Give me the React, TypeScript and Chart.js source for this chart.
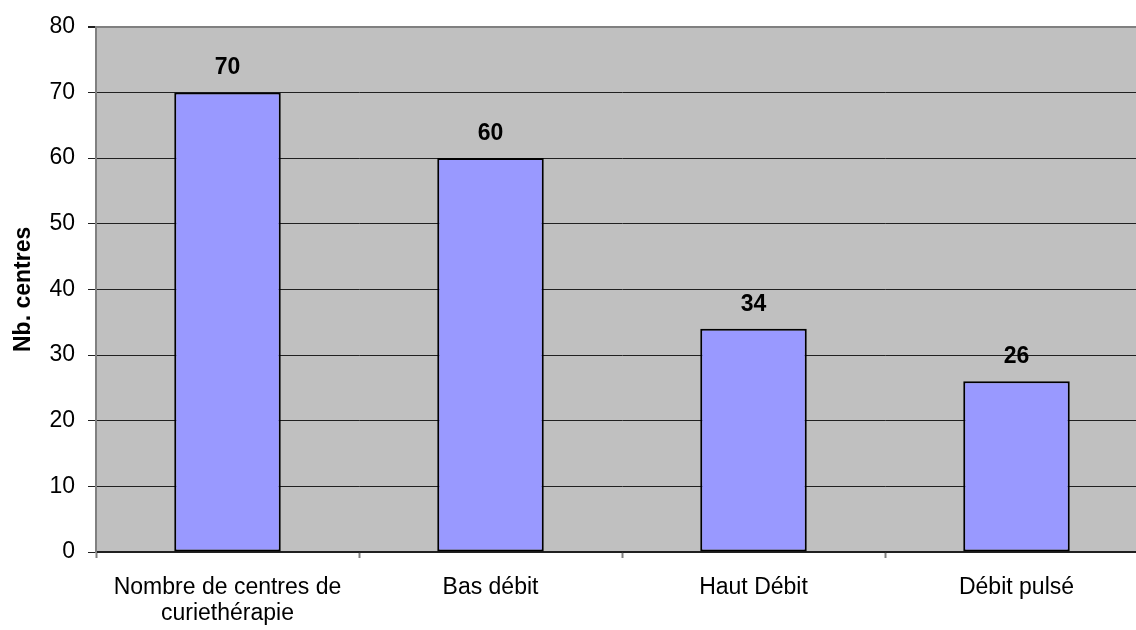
import React, { useEffect, useRef } from 'react';
import { Chart, registerables } from 'chart.js';

Chart.register(...registerables);

const categories: (string | string[])[] = [
  ['Nombre de centres de', 'curiethérapie'],
  'Bas débit',
  'Haut Débit',
  'Débit pulsé',
];
const centres: number[] = [70, 60, 34, 26];
const yMin = 0;
const yMax = 80;
const yStep = 10;
const yTitle = 'Nb. centres';

const FONT = '"Liberation Sans", Arial, sans-serif';

const plotBackground = {
  id: 'plotBackground',
  beforeDraw(chart: any) {
    const { ctx, chartArea } = chart;
    ctx.save();
    ctx.fillStyle = '#C0C0C0';
    ctx.fillRect(chartArea.left, chartArea.top, chartArea.right - chartArea.left, chartArea.bottom - chartArea.top);
    ctx.restore();
  },
};

const valueLabels = {
  id: 'valueLabels',
  afterDatasetsDraw(chart: any) {
    const { ctx } = chart;
    const meta = chart.getDatasetMeta(0);
    const data = chart.data.datasets[0].data;
    ctx.save();
    ctx.font = `bold 23px ${FONT}`;
    ctx.fillStyle = '#000';
    ctx.textAlign = 'center';
    ctx.textBaseline = 'alphabetic';
    meta.data.forEach((bar: any, i: number) => {
      ctx.fillText(String(data[i]), bar.x, bar.y - 18);
    });
    ctx.restore();
  },
};

export default function App() {
  const ref = useRef<HTMLCanvasElement | null>(null);

  useEffect(() => {
    if (!ref.current) return;
    const chart = new Chart(ref.current, {
      type: 'bar',
      data: {
        labels: categories,
        datasets: [
          {
            data: centres,
            backgroundColor: '#9999FF',
            borderColor: '#000000',
            borderWidth: 2,
            borderSkipped: false,
            barPercentage: 0.405,
            categoryPercentage: 1,
          },
        ],
      },
      plugins: [plotBackground, valueLabels],
      options: {
        responsive: false,
        animation: false,
        devicePixelRatio: 1,
        layout: { padding: { top: 25, right: 12, bottom: 0, left: 0 } },
        plugins: {
          legend: { display: false },
          tooltip: { enabled: false },
        },
        scales: {
          x: {
            offset: true,
            grid: {
              offset: true,
              drawOnChartArea: false,
              drawTicks: true,
              tickLength: 6,
              tickColor: '#808080',
              tickWidth: 2,
            },
            border: { display: true, color: '#202020', width: 1.5 },
            ticks: {
              color: '#000',
              padding: 16,
              maxRotation: 0,
              autoSkip: false,
              font: { family: FONT, size: 23, lineHeight: 1.15 },
            },
            afterFit(scale: any) {
              scale.height = 78;
            },
          },
          y: {
            min: yMin,
            max: yMax,
            ticks: {
              stepSize: yStep,
              color: '#000',
              padding: 13,
              font: { family: FONT, size: 23 },
            },
            grid: {
              color: (c: any) => (c.tick && c.tick.value === yMax ? '#808080' : '#202020'),
              lineWidth: (c: any) => (c.tick && c.tick.value === yMax ? 2 : 1),
              drawTicks: true,
              tickLength: 8,
              tickColor: '#202020',
            },
            border: { display: true, color: '#808080', width: 2 },
            title: {
              display: true,
              text: yTitle,
              color: '#000',
              padding: { top: 10, bottom: 0 },
              font: { family: FONT, size: 23, weight: 'bold' },
            },
            afterFit(scale: any) {
              scale.width = 96;
            },
          },
        },
      },
    });
    return () => chart.destroy();
  }, []);

  return (
    <div
      style={{
        position: 'absolute',
        left: 0,
        top: 0,
        width: 1136,
        height: 630,
        overflow: 'hidden',
        background: '#fff',
      }}
    >
      <canvas ref={ref} width={1160} height={630} style={{ display: 'block', width: 1160, height: 630 }} />
    </div>
  );
}
